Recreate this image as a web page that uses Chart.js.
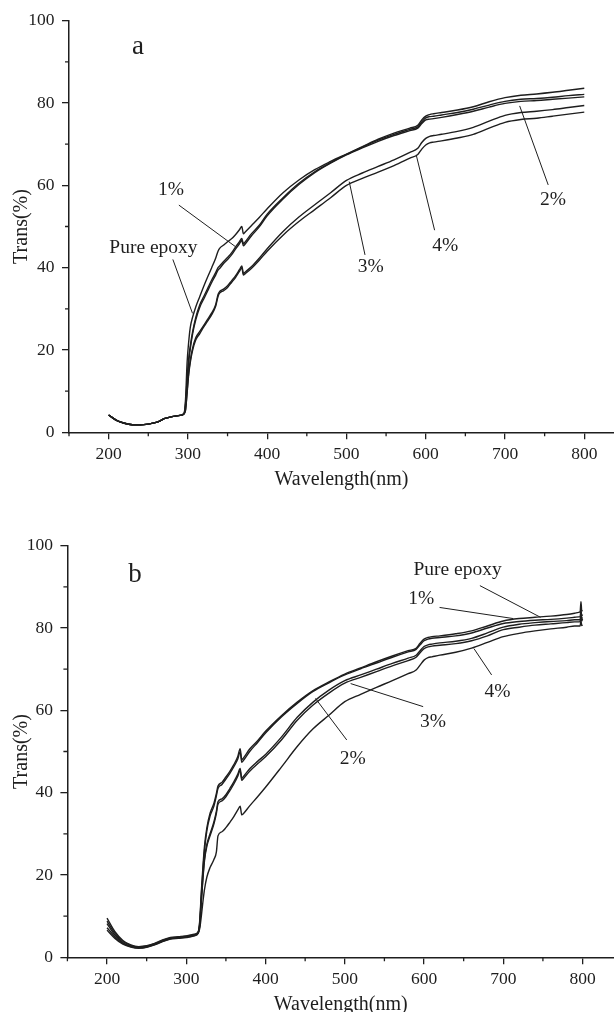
<!DOCTYPE html>
<html>
<head>
<meta charset="utf-8">
<script src="https://cdn.jsdelivr.net/npm/chart.js@4.4.1/dist/chart.umd.min.js"></script>
<style>
  html, body { margin: 0; padding: 0; background: #fff; overflow: hidden; }
  body { width: 614px; height: 1012px; position: relative; }
  canvas { position: absolute; left: 0; }
  #chartA { top: 0; }
  #chartB { top: 525px; }
</style>
</head>
<body>
<canvas id="chartA" width="614" height="506"></canvas>
<canvas id="chartB" width="614" height="506"></canvas>
<script>
// --- data (wavelength in nm, transmittance in %) ---

// panel a
const wlA = [200, 210, 220, 230, 240, 250, 260, 265, 270, 280, 290, 295,
  297, 299, 301, 303, 306, 310, 315, 320, 325, 330, 335, 338, 340, 345, 350, 355, 360, 365, 368, 370, 372,
  380, 390, 400, 420, 440, 460, 480, 500, 520, 540, 560, 580, 590, 595, 600, 605, 610, 620, 640, 660, 680,
  700, 720, 740, 760, 780, 800];
const pureA = [4.2, 2.9, 2.2, 1.85, 1.8, 2.0, 2.4, 2.8, 3.3, 3.8, 4.1, 4.5,
  8, 17, 22, 25.5, 28, 30.5, 33, 35.5, 37.8, 40, 42.3, 44, 44.7, 45.5, 46.3, 47, 48, 49.2, 50, 48.2, 48.6,
  50.2, 52.2, 54.3, 58.2, 61.3, 63.8, 65.8, 67.6, 69.4, 71.2, 72.7, 73.9, 74.6, 75.9, 76.8, 77.2, 77.4, 77.7, 78.3, 79.1, 80.3,
  81.3, 81.9, 82.2, 82.6, 83.1, 83.6];
const onePctA = [4.2, 2.9, 2.2, 1.85, 1.8, 2.0, 2.4, 2.8, 3.3, 3.8, 4.1, 4.5,
  7, 13, 18, 21, 24.5, 28, 31, 33, 35, 37, 38.8, 40, 40.4, 41.5, 42.5, 43.6, 45, 46.3, 47.1, 45.8, 46.2,
  48.2, 50.3, 53.0, 57.0, 60.5, 63.3, 65.5, 67.5, 69.3, 71.0, 72.4, 73.6, 74.2, 75.4, 76.4, 76.7, 76.8, 77.1, 77.7, 78.5, 79.5,
  80.4, 80.9, 81.1, 81.4, 81.8, 82.1];
const twoPctA = [4.2, 2.9, 2.2, 1.85, 1.8, 2.0, 2.4, 2.8, 3.3, 3.8, 4.1, 4.5,
  6.5, 12, 17, 20.3, 24, 27.4, 30.4, 32.4, 34.4, 36.4, 38.2, 39.4, 39.8, 41.0, 42.0, 43.1, 44.5, 45.8, 46.6, 45.3, 45.7,
  47.7, 49.9, 52.6, 56.7, 60.2, 63.1, 65.4, 67.4, 69.1, 70.7, 72.1, 73.3, 73.9, 75.0, 75.9, 76.1, 76.2, 76.5, 77.2, 78.0, 79.0,
  79.9, 80.4, 80.6, 80.9, 81.2, 81.5];
const threePctA = [4.2, 2.9, 2.2, 1.85, 1.8, 2.0, 2.4, 2.8, 3.3, 3.8, 4.1, 4.5,
  5.5, 10, 14.5, 17.5, 20.5, 23, 24.5, 26, 27.5, 29, 31, 33.5, 34.2, 34.8, 35.6, 36.8, 38, 39.5, 40.4, 38.6, 38.9,
  40.2, 42.3, 44.6, 48.8, 52.3, 55.3, 58.2, 61.2, 63.0, 64.6, 66.2, 68.0, 69.0, 70.4, 71.4, 71.9, 72.1, 72.4, 73.1, 74.1, 75.6,
  77.0, 77.7, 78.0, 78.4, 78.9, 79.4];
const fourPctA = [4.2, 2.9, 2.2, 1.85, 1.8, 2.0, 2.4, 2.8, 3.3, 3.8, 4.1, 4.5,
  5.3, 9.5, 14, 17, 20, 22.5, 24, 25.6, 27.1, 28.6, 30.6, 33.0, 33.8, 34.4, 35.2, 36.4, 37.6, 39.1, 40.0, 38.2, 38.5,
  39.8, 41.8, 44.0, 47.9, 51.2, 54.1, 57.0, 60.0, 61.7, 63.2, 64.8, 66.6, 67.5, 68.8, 69.8, 70.3, 70.5, 70.8, 71.5, 72.4, 73.9,
  75.3, 76.0, 76.3, 76.8, 77.3, 77.8];

// panel b
const wlB = [200, 210, 220, 230, 240, 250, 260, 270, 280, 290, 300, 310, 315,
  317, 319, 321, 323, 326, 330, 335, 338, 340, 345, 350, 355, 360, 365, 368, 370, 372,
  380, 390, 400, 420, 440, 460, 480, 500, 520, 540, 560, 580, 590, 595, 600, 605, 610, 620, 640, 660, 680,
  700, 720, 740, 760, 780, 790, 795, 797, 798, 799, 800];
const pureB = [9.5, 6.2, 4.1, 3.0, 2.6, 2.8, 3.4, 4.2, 4.8, 5.0, 5.2, 5.6, 6.2,
  9, 16, 22, 27, 31.5, 35, 37.5, 39.8, 41.6, 42.5, 43.8, 45.2, 46.8, 48.8, 50.7, 48.0, 48.4,
  50.6, 52.6, 54.9, 58.7, 62.0, 64.8, 66.9, 68.8, 70.3, 71.8, 73.2, 74.5, 75.1, 76.3, 77.3, 77.7, 77.9, 78.1, 78.6, 79.3, 80.5,
  81.7, 82.3, 82.6, 82.9, 83.3, 83.6, 83.8, 84.0, 86.4, 84.1, 84.3];
const onePctB = [8.8, 5.8, 3.9, 2.9, 2.5, 2.7, 3.3, 4.1, 4.7, 4.9, 5.1, 5.5, 6.1,
  8.5, 15, 21, 26, 30.8, 34.3, 36.8, 39.2, 41.0, 42.0, 43.3, 44.7, 46.3, 48.2, 49.9, 47.4, 47.8,
  50.0, 52.2, 54.5, 58.4, 61.7, 64.6, 66.7, 68.6, 70.1, 71.5, 72.9, 74.2, 74.8, 75.9, 76.9, 77.3, 77.5, 77.7, 78.1, 78.8, 80.0,
  81.1, 81.6, 81.9, 82.1, 82.4, 82.6, 82.7, 82.8, 84.4, 82.9, 83.3];
const twoPctB = [8.2, 5.4, 3.6, 2.7, 2.4, 2.6, 3.2, 4.0, 4.6, 4.8, 5.0, 5.4, 6.0,
  7.8, 13.5, 19, 23.5, 27, 29.5, 32.5, 35, 37.2, 38, 39, 40.5, 42.1, 44.0, 45.4, 43.0, 43.4,
  45.2, 47.0, 48.7, 52.8, 57.6, 61.3, 64.2, 66.6, 68.0, 69.4, 70.8, 72.1, 72.9, 74.0, 75.0, 75.4, 75.6, 75.8, 76.2, 76.9, 78.1,
  79.6, 80.2, 80.7, 81.0, 81.3, 81.5, 81.5, 81.6, 82.9, 81.7, 82.2];
const threePctB = [7.2, 5.0, 3.4, 2.6, 2.3, 2.5, 3.1, 3.9, 4.5, 4.7, 4.9, 5.3, 5.9,
  8, 14, 19.5, 24, 27.5, 30, 33, 35.5, 37.8, 38.5, 39.5, 41, 42.6, 44.5, 45.9, 43.5, 43.9,
  45.8, 47.6, 49.3, 53.5, 58.3, 62.0, 64.9, 67.2, 68.6, 70.0, 71.4, 72.7, 73.4, 74.5, 75.5, 75.9, 76.1, 76.4, 76.8, 77.5, 78.8,
  80.2, 80.9, 81.3, 81.6, 81.8, 82.0, 82.0, 82.0, 83.4, 82.3, 82.6];
const fourPctB = [6.6, 4.6, 3.2, 2.5, 2.2, 2.4, 3.0, 3.8, 4.4, 4.6, 4.8, 5.2, 5.8,
  7, 10, 13.5, 16.5, 19.5, 21.8, 23.8, 25.6, 29.5, 30.5, 31.5, 32.8, 34.2, 35.8, 36.7, 34.6, 34.9,
  36.8, 39.0, 41.3, 46.2, 51.2, 55.5, 58.8, 62.1, 63.9, 65.6, 67.2, 68.9, 69.8, 71.0, 72.2, 72.8, 73.0, 73.4, 74.1, 75.1, 76.5,
  77.9, 78.7, 79.3, 79.8, 80.2, 80.5, 80.5, 80.5, 81.8, 80.6, 80.8];

// ticks
const xMajor = [200, 300, 400, 500, 600, 700, 800];
const xMinor = [150, 250, 350, 450, 550, 650, 750];
const yMajor = [0, 20, 40, 60, 80, 100];
const yMinor = [10, 30, 50, 70, 90];

// text labels with leader lines, in data units
const notesA = [
  { text: 'a', x: 237, y: 93.6, size: 27 },
  { text: '1%', x: 278.6, y: 58.9, from: [288.6, 55.2], to: [360, 45.1] },
  { text: 'Pure epoxy', x: 256.5, y: 44.7, from: [281, 42], to: [305.8, 28.9] },
  { text: '3%', x: 530.6, y: 40.2, from: [523.4, 43.1], to: [503.5, 60.9] },
  { text: '4%', x: 624.6, y: 45.3, from: [611.2, 49.1], to: [588, 67.4] },
  { text: '2%', x: 760.5, y: 56.4, from: [754.5, 60.1], to: [718.5, 79.3] }
];
const notesB = [
  { text: 'b', x: 235.3, y: 92.8, size: 27 },
  { text: 'Pure epoxy', x: 642.3, y: 94.1, from: [670.5, 90.3], to: [747, 82.6] },
  { text: '1%', x: 596.4, y: 87, from: [619.6, 85], to: [712.5, 82.3] },
  { text: '4%', x: 692.8, y: 64.5, from: [685.3, 68.6], to: [663, 75] },
  { text: '3%', x: 611.2, y: 57.2, from: [598.9, 60.9], to: [507.4, 66.5] },
  { text: '2%', x: 509.9, y: 48.3, from: [502.5, 52.8], to: [463, 62.9] }
];

const ink = '#1e1e1e';
const serif = "'Liberation Serif', 'Times New Roman', serif";
Chart.defaults.font.family = serif;
Chart.defaults.color = ink;

function makePanel(id, wl, curves, notes, left, xMax) {
  const datasets = curves.map(c => ({
    label: c.name,
    data: wl.map((w, i) => ({ x: w, y: c.values[i] })),
    borderColor: ink,
    borderWidth: 1.4,
    pointRadius: 0,
    fill: false,
    cubicInterpolationMode: 'monotone'
  }));

  // minor ticks and the leader-line labels
  const extras = {
    id: 'extras',
    afterDraw(chart) {
      const { ctx, chartArea } = chart;
      const x = chart.scales.x, y = chart.scales.y;
      ctx.save();
      ctx.strokeStyle = ink;
      ctx.lineWidth = 1.3;
      ctx.beginPath();
      xMinor.forEach(v => {
        const px = x.getPixelForValue(v);
        ctx.moveTo(px, chartArea.bottom);
        ctx.lineTo(px, chartArea.bottom + 4);
      });
      yMinor.forEach(v => {
        const py = y.getPixelForValue(v);
        ctx.moveTo(chartArea.left - 4, py);
        ctx.lineTo(chartArea.left, py);
      });
      ctx.stroke();

      ctx.lineWidth = 1;
      ctx.fillStyle = ink;
      ctx.textAlign = 'center';
      ctx.textBaseline = 'middle';
      notes.forEach(n => {
        if (n.from) {
          ctx.beginPath();
          ctx.moveTo(x.getPixelForValue(n.from[0]), y.getPixelForValue(n.from[1]));
          ctx.lineTo(x.getPixelForValue(n.to[0]), y.getPixelForValue(n.to[1]));
          ctx.stroke();
        }
        ctx.font = (n.size || 19.5) + 'px ' + serif;
        ctx.fillText(n.text, x.getPixelForValue(n.x), y.getPixelForValue(n.y));
      });
      ctx.restore();
    }
  };

  const axisGrid = { drawOnChartArea: false, drawTicks: true, tickLength: 7, color: ink, lineWidth: 1.3 };
  const axisBorder = { display: true, color: ink, width: 1.5 };

  return new Chart(document.getElementById(id), {
    type: 'line',
    data: { datasets },
    options: {
      responsive: false,
      animation: false,
      layout: { padding: { top: 20.7, left: 0, right: 0, bottom: 0 } },
      plugins: { legend: { display: false }, tooltip: { enabled: false } },
      scales: {
        x: {
          type: 'linear',
          min: 150,
          max: xMax,
          afterBuildTicks: s => { s.ticks = xMajor.map(v => ({ value: v })); },
          afterFit: s => { s.height = 73.7; },
          ticks: { font: { size: 17.5 }, padding: 4.5, color: ink, maxRotation: 0, autoSkip: false },
          grid: axisGrid,
          border: axisBorder,
          title: { display: true, text: 'Wavelength(nm)', font: { size: 20 }, color: ink, padding: { top: 0, bottom: 14 } }
        },
        y: {
          min: 0,
          max: 100,
          afterBuildTicks: s => { s.ticks = yMajor.map(v => ({ value: v })); },
          afterFit: s => { s.width = left; },
          ticks: { font: { size: 17.5 }, padding: 7.5, color: ink },
          grid: axisGrid,
          border: axisBorder,
          title: { display: true, text: 'Trans(%)', font: { size: 20 }, color: ink, padding: { top: 9.5, bottom: 0 } }
        }
      }
    },
    plugins: [extras]
  });
}

makePanel('chartA', wlA, [
  { name: 'Pure epoxy', values: pureA },
  { name: '1%', values: onePctA },
  { name: '2%', values: twoPctA },
  { name: '3%', values: threePctA },
  { name: '4%', values: fourPctA }
], notesA, 69, 837.5);

makePanel('chartB', wlB, [
  { name: 'Pure epoxy', values: pureB },
  { name: '1%', values: onePctB },
  { name: '2%', values: twoPctB },
  { name: '3%', values: threePctB },
  { name: '4%', values: fourPctB }
], notesB, 67.4, 839.7);
</script>
</body>
</html>
